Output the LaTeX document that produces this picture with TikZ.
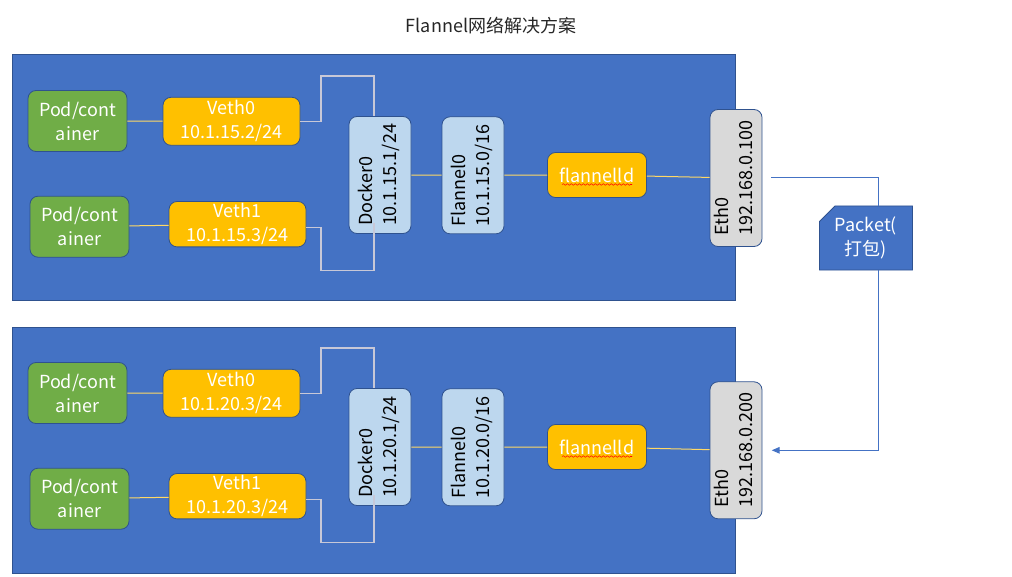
\documentclass[tikz,border=0pt]{standalone}
\usepackage{fontspec}
\setmainfont{Noto Sans CJK SC}
\usepackage{graphicx}
\usetikzlibrary{arrows.meta}
\usetikzlibrary{shapes.misc}
\usetikzlibrary{decorations.pathmorphing}
\usetikzlibrary{calc}

\definecolor{hostblue}{HTML}{4472C4}
\definecolor{edgeblue}{HTML}{2F528F}
\definecolor{podgreen}{HTML}{70AD47}
\definecolor{vethyellow}{HTML}{FFC000}
\definecolor{bridgeblue}{HTML}{BDD7EE}
\definecolor{ethgray}{HTML}{D9D9D9}
\definecolor{linkyellow}{HTML}{FFD966}
\definecolor{linkgray}{RGB}{200,200,215}

\newcommand{\vtext}[2]{\rotatebox{90}{\begin{tabular}{@{}l@{}}#1\\#2\end{tabular}}}

\begin{document}
\begin{tikzpicture}[x=0.75pt,y=-0.75pt,
  every node/.style={font=\fontsize{13.5}{18}\selectfont},
  box/.style={draw=edgeblue,line width=0.6pt,rounded corners=6pt,inner sep=0pt,align=center},
  pod/.style={box,fill=podgreen,text=white,minimum width=74.25pt,minimum height=45.75pt},
  veth/.style={box,fill=vethyellow,text=white,minimum width=102.75pt,minimum height=36pt},
  bridge/.style={box,fill=bridgeblue,text=black,minimum width=46.5pt,minimum height=87.75pt},
  daemon/.style={box,fill=vethyellow,text=white,minimum width=74.25pt,minimum height=33.75pt},
  eth/.style={box,fill=ethgray,text=black,minimum width=39pt,minimum height=102.75pt},
  packet/.style={draw=edgeblue,line width=0.6pt,fill=hostblue,text=white,align=center,inner sep=0pt,
    chamfered rectangle,chamfered rectangle corners=north west,chamfered rectangle xsep=8pt,
    minimum width=69.75pt,minimum height=48pt},
  link/.style={linkyellow,line width=0.75pt},
  vlink/.style={linkgray,line width=1.1pt},
  pkt/.style={hostblue,line width=0.75pt},
  squiggle/.style={red,line width=0.4pt,decorate,decoration={snake,amplitude=0.6pt,segment length=3pt}}]
  \useasboundingbox (0,0) rectangle (1012,577);

  \node[text=black!85] (title) at (491,26) {Flannel网络解决方案};

  \draw[draw=edgeblue,fill=hostblue,line width=0.75pt] (12,55) rectangle (735,300);
  \draw[draw=edgeblue,fill=hostblue,line width=0.75pt] (12,327) rectangle (735,573);

  \node[pod] (pod1) at (77.5,121) {Pod/cont\\ainer};
  \node[veth] (veth1) at (231.5,121.3) {Veth0\\10.1.15.2/24};
  \node[pod] (pod2) at (79.5,226.7) {Pod/cont\\ainer};
  \node[veth,minimum height=34pt] (veth2) at (237.5,224.2) {Veth1\\10.1.15.3/24};
  \node[bridge] (docker1) at (380,175) {\vtext{Docker0}{10.1.15.1/24}};
  \node[bridge] (flannel1) at (473,175.3) {\vtext{Flannel0}{10.1.15.0/16}};
  \node[daemon] (flanneld1) at (597,175) {flannelld};
  \node[eth] (eth1) at (736,178) {\vtext{Eth0}{192.168.0.100}};

  \node[pod] (pod3) at (77.5,393) {Pod/cont\\ainer};
  \node[veth] (veth3) at (231.5,393.3) {Veth0\\10.1.20.3/24};
  \node[pod] (pod4) at (79.5,498.7) {Pod/cont\\ainer};
  \node[veth,minimum height=34pt] (veth4) at (237.5,496.2) {Veth1\\10.1.20.3/24};
  \node[bridge] (docker2) at (380,447) {\vtext{Docker0}{10.1.20.1/24}};
  \node[bridge] (flannel2) at (473,447.3) {\vtext{Flannel0}{10.1.20.0/16}};
  \node[daemon] (flanneld2) at (597,447) {flannelld};
  \node[eth] (eth2) at (736,450.3) {\vtext{Eth0}{192.168.0.200}};

  \node[packet] (packet) at (866,238) {Packet(\\打包)};

  \draw[squiggle] ($(flanneld1.center)+(-35,9.5)$) -- ($(flanneld1.center)+(35,9.5)$);
  \draw[squiggle] ($(flanneld2.center)+(-35,9.5)$) -- ($(flanneld2.center)+(35,9.5)$);

  \draw[link] (pod1) -- (veth1);
  \draw[link] (pod2) -- (veth2);
  \draw[link] (docker1) -- (flannel1);
  \draw[link] (flannel1) -- (flanneld1);
  \draw[link] (flanneld1) -- (eth1);
  \draw[link] (pod3) -- (veth3);
  \draw[link] (pod4) -- (veth4);
  \draw[link] (docker2) -- (flannel2);
  \draw[link] (flannel2) -- (flanneld2);
  \draw[link] (flanneld2) -- (eth2);

  \coordinate (v1a) at (321,76);    \coordinate (v1b) at (374,76);
  \coordinate (v2a) at (321,270.7); \coordinate (v2b) at (374,270.7); \coordinate (v2c) at (374,222.7);
  \coordinate (v3a) at (321,348);   \coordinate (v3b) at (374,348);
  \coordinate (v4a) at (321,542.7); \coordinate (v4b) at (374,542.7); \coordinate (v4c) at (374,494.7);
  \draw[vlink] (veth1.east) -| (v1a) -- (v1b) -- (v1b |- docker1.north);
  \draw[vlink] ([yshift=-2.6pt]veth2.east) -| (v2a) -- (v2b) -- (v2c);
  \draw[vlink] (veth3.east) -| (v3a) -- (v3b) -- (v3b |- docker2.north);
  \draw[vlink] ([yshift=-2.6pt]veth4.east) -| (v4a) -- (v4b) -- (v4c);

  \draw[pkt] ([xshift=6.75pt]eth1.east) -| ([xshift=9pt]packet.north);
  \draw[pkt,-{Triangle[length=6pt,width=5pt]}] ([xshift=9pt]packet.south) |- ([xshift=7pt]eth2.east);
\end{tikzpicture}
\end{document}
